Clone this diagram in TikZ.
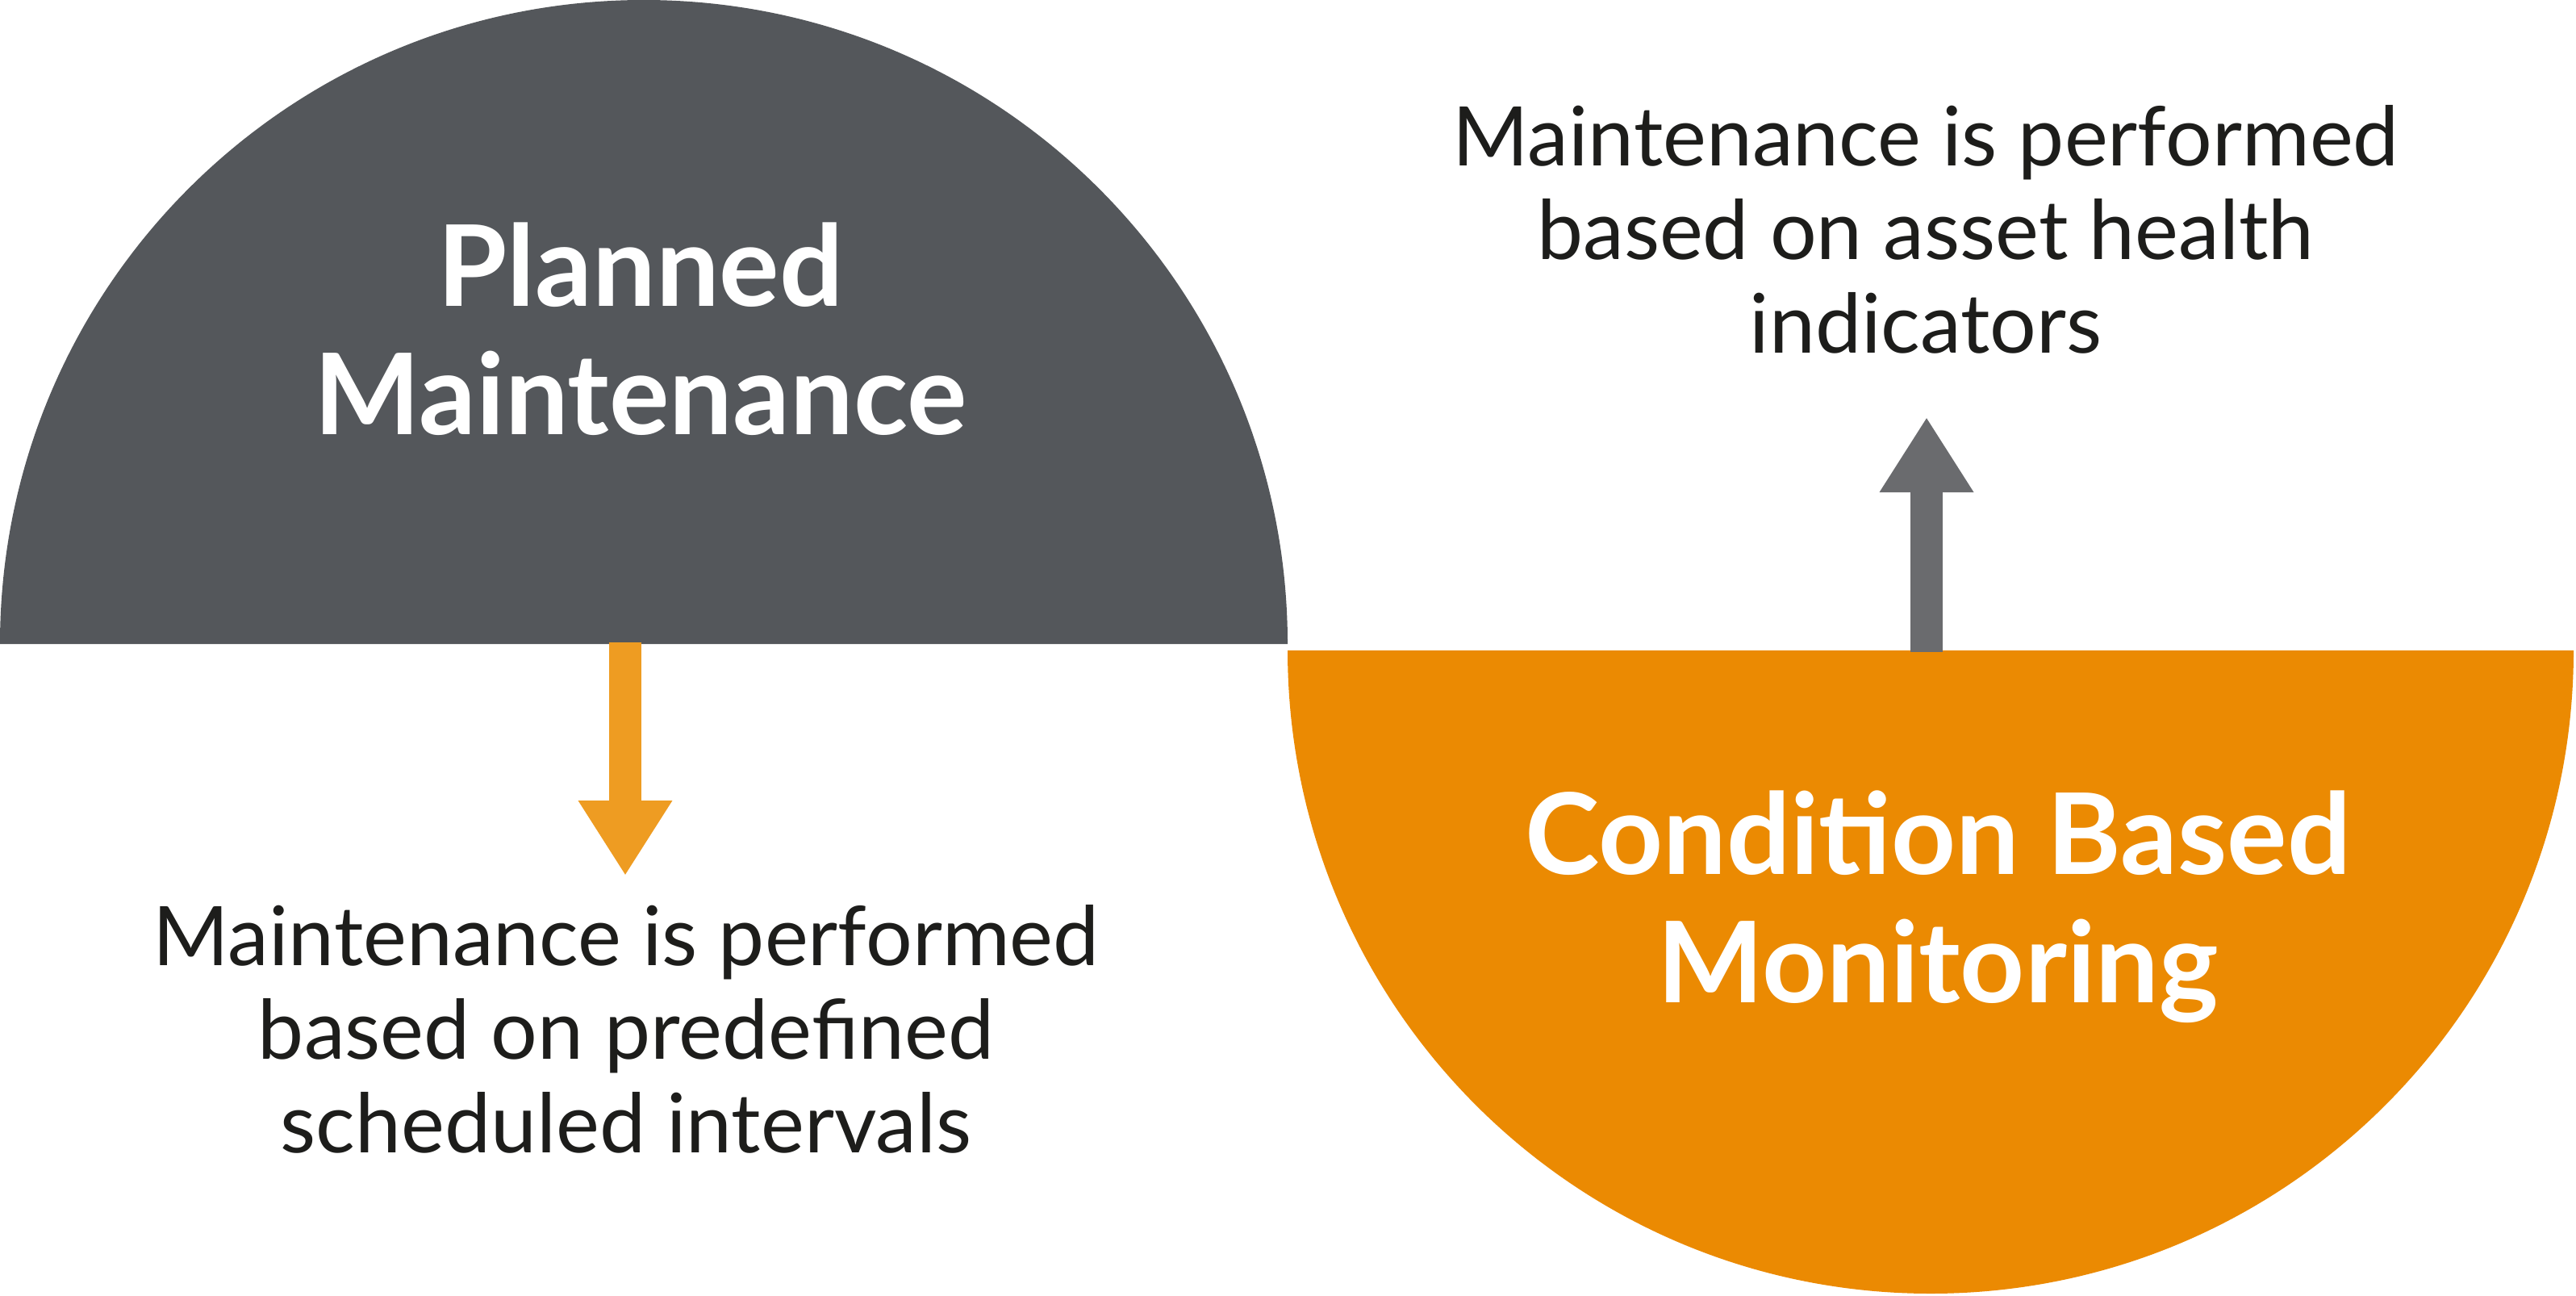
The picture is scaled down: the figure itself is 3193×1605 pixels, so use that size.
\documentclass[tikz,border=0pt]{standalone}
\usepackage{fontspec}
\setmainfont{Lato}
\usepackage{xcolor}
\usepackage{tikz}
\usetikzlibrary{arrows.meta, positioning}
\definecolor{plannedgray}{HTML}{54575B}
\definecolor{cbmorange}{HTML}{EB8A02}
\definecolor{arroworange}{HTML}{EE9C22}
\definecolor{arrowgray}{HTML}{6A6B6E}
\definecolor{bodyblack}{HTML}{1D1D1B}
\tikzstyle{title} = [
    align=center,
    text=white,
    font=\bfseries\fontsize{39.7}{45.2}\selectfont
]
\tikzstyle{caption} = [
    align=center,
    text=bodyblack,
    font=\fontsize{29}{33}\selectfont
]
\tikzset{
    >={Triangle[width=11mm,length=9.3mm]}
}
\tikzstyle{fatarrow} = [
    line width=4mm,
    line cap=butt,
    ->
]

\begin{document}
\begin{tikzpicture}[x=0.1mm, y=0.1mm]
\useasboundingbox (0,0) rectangle (3193,1605);

% Half discs
\fill[plannedgray] (0,807) arc[start angle=180, end angle=0, radius=798] -- cycle;
\fill[cbmorange] (1596,799) arc[start angle=180, end angle=360, radius=797] -- cycle;

% Nodes
\node (planned) [title] at (794,1197) {Planned\\Maintenance};

\node (cbm) [title] at (2402,481) {Condition Based\\Monitoring};

\node (plannedtext) [caption] at (776,330) 
{Maintenance is performed\\based on predefined\\scheduled intervals};

\node (cbmtext) [caption] at (2387,1321) 
{Maintenance is performed\\based on asset health\\indicators};

\coordinate (plannedfoot) at (775,809);
\coordinate (plannedtip) at (775,520);
\coordinate (cbmfoot) at (2388,797);
\coordinate (cbmtip) at (2388,1088);

% Arrows
\draw [fatarrow, draw=arroworange] (plannedfoot) -- (plannedtip);

\draw [fatarrow, draw=arrowgray] (cbmfoot) -- (cbmtip);

\end{tikzpicture}
\end{document}
